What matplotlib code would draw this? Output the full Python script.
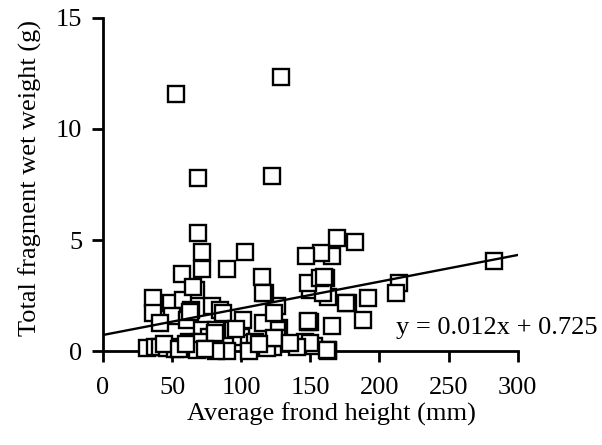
import matplotlib
matplotlib.use("Agg")
import matplotlib.pyplot as plt
import numpy as np

plt.rcParams['font.family'] = ['Liberation Serif', 'DejaVu Serif']

# Data (Average frond height mm, fragment wet weight g)
frond_height = [
    53, 129, 69, 122, 69, 283, 214, 212, 188, 192, 177, 182, 169, 166, 158, 147,
    161, 163, 150, 150, 166, 163, 153, 146, 126, 127, 123, 148, 150, 163, 176,
    72, 72, 90, 103, 115, 57, 67, 36, 36, 49, 58, 64, 79, 50, 41, 61, 72, 77,
    32, 38, 41, 46, 52, 57, 62, 70, 75, 81, 117, 126, 159, 85, 101, 82, 94, 100,
    106, 119, 126, 148, 90, 82, 162, 65, 63, 87, 116, 81, 96, 110, 116, 124,
    124, 106, 148, 157, 160, 44, 55, 68, 60, 74, 113, 140, 135,
]
wet_weight = [
    11.55, 12.35, 7.8, 7.9, 5.3, 4.05, 3.05, 2.6, 1.4, 2.4, 2.15, 4.9, 5.1, 4.3, 4.4, 4.3,
    3.3, 2.45, 2.75, 1.3, 1.15, 0.0, 0.25, 0.4, 2.05, 1.05, 0.2, 1.3, 0.35, 0.05, 2.15,
    4.45, 3.7, 3.7, 4.45, 3.35, 3.45, 2.75, 2.4, 1.7, 2.15, 2.3, 1.85, 2.05, 1.6, 1.25, 1.4, 0.95, 0.65,
    0.15, 0.2, 0.2, 0.15, 0.1, 0.2, 0.4, 0.4, 0.1, 0.7, 2.6, 0.95, 2.6, 1.85, 1.4, 0.95, 0.95, 0.65,
    0.35, 0.15, 0.6, 3.05, 0.0, 0.0, 0.05, 2.9, 1.75, 1.7, 2.6, 0.8, 1.0, 0.4, 1.25, 1.7,
    0.6, 0.0, 1.35, 3.3, 3.35, 0.3, 0.1, 0.05, 0.3, 0.1, 0.3, 0.2, 0.35,
]

slope = 0.012
intercept = 0.725
x_ticks = [0, 50, 100, 150, 200, 250, 300]
y_ticks = [0, 5, 10, 15]

fig = plt.figure(figsize=(6.02, 4.45), dpi=100)
ax = fig.add_axes([0.171, 0.211, 0.689, 0.749])

ax.plot(frond_height, wet_weight, linestyle='none', marker='s', markersize=11.5,
        markerfacecolor='white', markeredgecolor='black', markeredgewidth=1.7,
        clip_on=False, zorder=3)

xl = np.array([0, 300])
ax.plot(xl, slope * xl + intercept, color='black', linewidth=1.7, zorder=4)

ax.set_xlim(0, 300)
ax.set_ylim(0, 15)
ax.set_xticks(x_ticks)
ax.set_yticks(y_ticks)
for s in ['top', 'right']:
    ax.spines[s].set_visible(False)
for s in ['left', 'bottom']:
    ax.spines[s].set_linewidth(2)
ax.tick_params(direction='out', length=8, width=2, labelsize=19)
ax.tick_params(axis='x', pad=11)
ax.tick_params(axis='y', pad=7)

ax.set_xlabel('Average frond height (mm)', fontsize=19, labelpad=7)
ax.xaxis.set_label_coords(0.55, -0.155)
ax.set_ylabel('Total fragment wet weight (g)', fontsize=19, labelpad=7)
ax.yaxis.set_label_coords(-0.148, 0.52)

ax.text(0.706, 0.069, 'y = 0.012x + 0.725', transform=ax.transAxes, fontsize=19,
        ha='left', va='center', zorder=5)

fig.savefig('out.png', dpi=100)
